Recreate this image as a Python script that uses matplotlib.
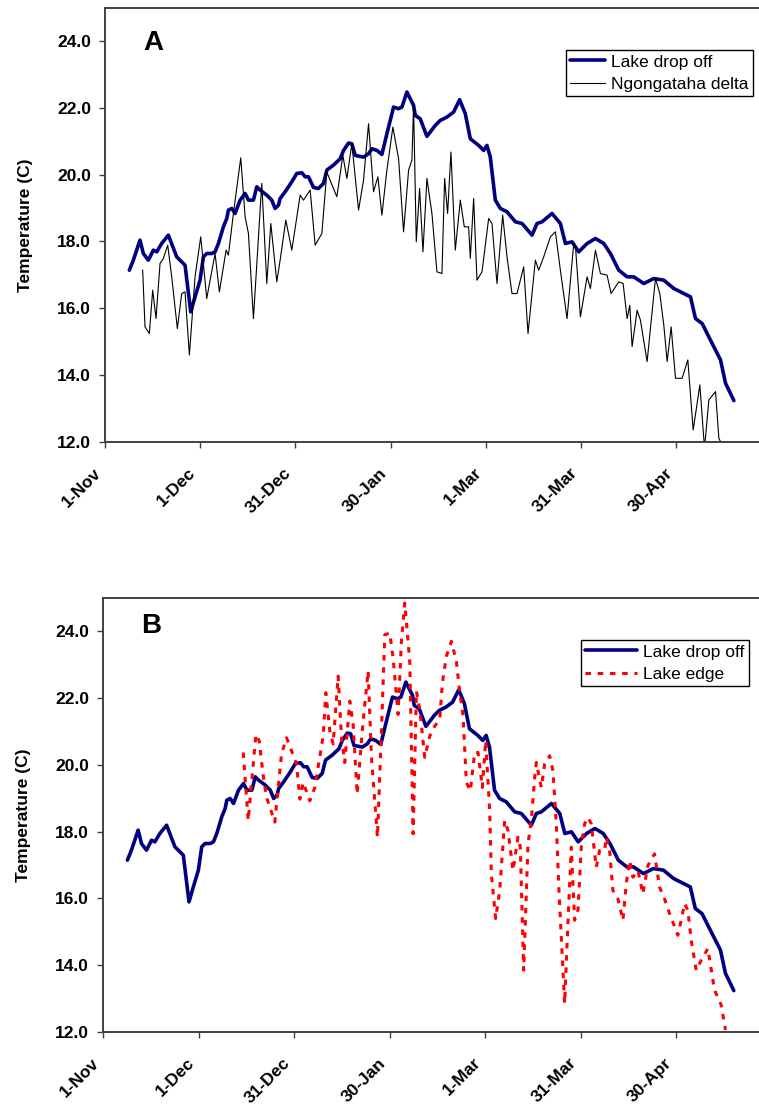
import matplotlib.pyplot as plt
import matplotlib.transforms as mtransforms

plt.rcParams['font.family'] = ['Liberation Sans', 'DejaVu Sans']

# days counted from 1 November
tick_days = [0, 30, 60, 90, 120, 150, 180]
tick_names = ['1-Nov', '1-Dec', '31-Dec', '30-Jan', '1-Mar', '31-Mar', '30-Apr']

# Lake drop off logger
dropoff_day = [7.67, 8.93, 11.03, 12.08, 13.66, 15.24, 16.29, 17.86, 19.97, 22.59,
               25.22, 27.01, 28.37, 29.95, 31.0, 32.05, 33.63, 34.68, 35.73, 37.3,
               38.36, 38.88, 39.93, 40.98, 42.56, 44.14, 45.19, 46.76, 47.81, 48.87,
               50.97, 52.54, 53.59, 54.65, 55.17, 56.75, 58.85, 60.42, 62.0, 63.05,
               64.1, 65.68, 67.25, 68.83, 69.88, 71.98, 74.09, 75.14, 76.71, 77.76,
               78.81, 81.44, 83.02, 84.07, 85.65, 87.22, 88.8, 90.9, 92.48, 93.53,
               95.1, 97.2, 97.73, 99.3, 101.4, 104.03, 105.61, 107.71, 109.81, 111.71,
               113.49, 115.07, 117.7, 119.27, 120.32, 121.37, 122.95, 124.53, 126.63, 129.26,
               131.36, 134.51, 136.09, 137.66, 140.81, 143.44, 145.02, 147.12, 149.22, 151.85,
               154.48, 157.1, 159.2, 161.83, 164.46, 166.56, 169.71, 172.87, 176.02, 179.17,
               182.32, 184.42, 186.0, 188.1, 191.26, 193.88, 195.46, 198.09]
dropoff_temp = [17.14, 17.44, 18.04, 17.64, 17.44, 17.74, 17.69, 17.94, 18.19, 17.54,
                17.29, 15.89, 16.34, 16.84, 17.54, 17.64, 17.64, 17.69, 17.94, 18.44,
                18.69, 18.94, 18.99, 18.84, 19.24, 19.44, 19.24, 19.24, 19.64, 19.54,
                19.39, 19.24, 18.99, 19.09, 19.29, 19.49, 19.79, 20.04, 20.06, 19.94,
                19.94, 19.62, 19.59, 19.74, 20.14, 20.29, 20.48, 20.73, 20.95, 20.93,
                20.58, 20.53, 20.63, 20.78, 20.73, 20.61, 21.23, 22.03, 21.98, 22.03,
                22.48, 22.08, 21.78, 21.68, 21.15, 21.48, 21.63, 21.73, 21.88, 22.25,
                21.83, 21.08, 20.88, 20.73, 20.88, 20.53, 19.24, 18.99, 18.89, 18.59,
                18.54, 18.19, 18.54, 18.59, 18.84, 18.54, 17.94, 17.99, 17.69, 17.94,
                18.09, 17.94, 17.64, 17.14, 16.94, 16.94, 16.74, 16.89, 16.84, 16.59,
                16.44, 16.34, 15.69, 15.54, 14.94, 14.45, 13.75, 13.23]

# Ngongataha delta logger
delta_day = [11.88, 12.61, 13.98, 15.03, 16.08, 17.34, 18.39, 19.76, 21.02, 22.8,
             24.17, 25.22, 26.59, 28.37, 30.16, 32.05, 34.68, 36.04, 38.15, 38.88,
             40.46, 42.77, 44.14, 45.19, 46.76, 49.39, 50.97, 52.23, 54.12, 55.17,
             56.96, 58.85, 61.48, 62.53, 64.63, 66.2, 68.31, 69.88, 73.03, 74.93,
             76.19, 77.76, 79.87, 81.44, 83.02, 84.59, 85.96, 87.22, 88.8, 90.69,
             92.48, 94.05, 95.63, 96.68, 97.2, 98.05, 99.1, 100.15, 101.41, 102.98,
             104.56, 106.14, 106.98, 107.92, 108.97, 110.34, 111.92, 113.18, 114.54, 115.07,
             116.12, 117.17, 118.75, 120.85, 121.9, 123.47, 125.26, 126.63, 128.2, 129.78,
             131.88, 133.25, 135.56, 136.61, 138.19, 140.29, 141.87, 143.44, 145.54, 147.64,
             148.17, 149.75, 151.85, 152.9, 154.48, 156.05, 158.15, 159.42, 160.78, 161.83,
             163.2, 164.46, 165.3, 166.03, 167.61, 168.66, 170.76, 173.39, 174.76, 176.02,
             177.07, 178.33, 179.7, 181.8, 183.58, 185.27, 187.37, 188.84, 190.2, 192.31,
             193.36, 194.41]
delta_temp = [17.14, 15.44, 15.24, 16.54, 15.69, 17.34, 17.49, 17.89, 16.94, 15.39,
              16.44, 16.49, 14.6, 16.94, 18.14, 16.29, 17.64, 16.49, 17.74, 17.59,
              18.84, 20.51, 18.74, 18.24, 15.69, 19.74, 16.74, 18.54, 16.79, 17.44,
              18.64, 17.74, 19.39, 19.24, 19.54, 17.89, 18.24, 20.08, 19.34, 20.58,
              19.89, 20.93, 18.94, 19.84, 21.53, 19.49, 19.94, 18.79, 20.14, 21.43,
              20.48, 18.29, 20.14, 20.44, 22.08, 17.99, 19.59, 17.69, 19.89, 18.84,
              17.09, 17.04, 19.89, 18.84, 20.68, 17.74, 19.24, 18.44, 18.44, 17.49,
              19.29, 16.84, 17.09, 18.69, 18.54, 16.74, 18.79, 17.54, 16.44, 16.44,
              17.24, 15.24, 17.44, 17.14, 17.54, 18.14, 18.29, 17.14, 15.69, 17.94,
              17.89, 15.74, 16.94, 16.59, 17.74, 17.04, 16.99, 16.44, 16.64, 16.79,
              16.74, 15.69, 16.09, 14.85, 15.94, 15.64, 14.4, 16.89, 16.44, 15.49,
              14.4, 15.44, 13.9, 13.9, 14.45, 12.35, 13.7, 11.8, 13.25, 13.5,
              12.1, 11.9]

# Lake edge logger
edge_day = [44.03, 45.6, 46.65, 48.01, 49.05, 50.31, 51.36, 53.97, 54.49, 56.06,
            57.63, 59.2, 60.77, 61.81, 62.86, 64.95, 66.52, 69.13, 69.97, 71.23,
            72.27, 73.84, 74.89, 75.93, 77.5, 78.55, 79.8, 81.69, 83.26, 84.3,
            86.18, 87.44, 88.49, 90.05, 91.1, 92.67, 93.71, 94.76, 96.33, 97.38,
            98.42, 99.47, 101.04, 102.6, 104.17, 105.74, 106.58, 107.83, 109.4, 110.97,
            111.81, 113.06, 114.11, 115.36, 116.72, 117.77, 119.13, 120.17, 121.43, 121.95,
            123.31, 124.57, 126.14, 127.18, 128.75, 130.32, 131.05, 132.1, 133.46, 134.5,
            135.55, 136.07, 137.64, 138.69, 140.26, 141.3, 142.35, 143.18, 144.96, 146.0,
            147.05, 148.1, 149.15, 150.19, 151.24, 152.28, 153.33, 154.9, 155.94, 157.51,
            158.04, 159.08, 160.13, 161.7, 163.27, 164.31, 165.36, 166.4, 167.97, 169.54,
            171.11, 173.2, 174.77, 176.34, 177.91, 180.52, 181.57, 182.62, 183.66, 184.71,
            186.28, 187.85, 189.94, 192.03, 194.12, 195.48]
edge_temp = [20.37, 18.33, 19.47, 20.91, 20.72, 19.67, 19.02, 18.28, 18.82, 20.32,
             20.81, 20.42, 20.02, 18.97, 19.47, 18.92, 19.32, 20.86, 22.16, 21.01,
             20.62, 22.66, 20.82, 20.07, 21.91, 21.21, 19.12, 21.31, 22.81, 20.22,
             17.83, 21.01, 23.9, 23.95, 23.2, 21.51, 23.7, 24.85, 23.1, 17.93,
             22.21, 21.66, 20.22, 20.86, 21.16, 21.36, 22.46, 23.25, 23.7, 23.1,
             22.36, 21.46, 19.47, 19.22, 20.37, 20.37, 19.32, 20.72, 18.62, 16.73,
             15.39, 16.23, 18.33, 18.03, 16.83, 17.83, 17.53, 13.84, 17.63, 18.33,
             19.62, 20.07, 19.32, 20.02, 20.27, 19.82, 18.23, 16.23, 12.85, 15.24,
             17.53, 15.34, 15.64, 17.53, 18.23, 18.42, 18.23, 16.93, 17.43, 17.43,
             17.83, 17.43, 16.23, 15.98, 15.34, 16.43, 17.13, 16.63, 16.83, 16.13,
             16.98, 17.33, 16.33, 15.98, 15.54, 14.89, 15.34, 15.84, 15.64, 14.74,
             13.84, 14.14, 14.49, 13.25, 12.8, 12.05]

NAVY = '#000080'
AXCOL = '#404040'


def style_axis(ax, tag, tag_y):
    ax.set_xlim(0, 206)
    ax.set_ylim(12, 25)
    ax.set_yticks(range(12, 25, 2))
    ax.set_yticklabels(['%.1f' % v for v in range(12, 25, 2)])
    ax.set_xticks(tick_days)
    ax.set_xticklabels(tick_names)
    for side in ['left', 'bottom', 'top']:
        ax.spines[side].set_color(AXCOL)
        ax.spines[side].set_linewidth(1.4)
    ax.spines['right'].set_visible(False)
    ax.tick_params(axis='both', direction='out', length=4, width=1, color=AXCOL,
                   labelsize=12.5)
    ax.tick_params(axis='y', pad=6)
    ax.tick_params(axis='x', pad=13)
    shift = mtransforms.ScaledTranslation(-0.12, 0, ax.figure.dpi_scale_trans)
    for lbl in ax.get_xticklabels():
        lbl.set_rotation(45)
        lbl.set_ha('right')
        lbl.set_va('top')
        lbl.set_rotation_mode('anchor')
        lbl.set_fontweight('bold')
        lbl.set_transform(lbl.get_transform() + shift)
    for lbl in ax.get_yticklabels():
        lbl.set_fontweight('bold')
    ax.set_ylabel('Temperature (C)', fontsize=12.5, fontweight='bold')
    ax.yaxis.set_label_coords(-0.11, 0.5)
    ax.text(0.058, tag_y, tag, transform=ax.transAxes, fontsize=20,
            fontweight='bold', ha='left', va='top')


fig = plt.figure(figsize=(7.59, 11.08), dpi=100)

# A: lake drop off vs Ngongataha delta
axA = fig.add_axes([0.1383, 0.6014, 0.8617, 0.3914])
axA.plot(dropoff_day, dropoff_temp, color=NAVY, lw=2.6, solid_joinstyle='round',
         solid_capstyle='round', label='Lake drop off')
axA.plot(delta_day, delta_temp, color='black', lw=0.8, solid_joinstyle='round',
         label='Ngongataha delta')
style_axis(axA, 'A', 0.95)
axA.legend(loc='upper right', bbox_to_anchor=(0.991, 0.903), borderaxespad=0,
           fontsize=12.5, frameon=True, fancybox=False, edgecolor='black',
           framealpha=1, handlelength=2.0, handletextpad=0.35, borderpad=0.25,
           labelspacing=0.4)

# B: lake drop off vs lake edge
axB = fig.add_axes([0.1357, 0.0689, 0.8643, 0.3914])
axB.plot(dropoff_day, dropoff_temp, color=NAVY, lw=2.6, solid_joinstyle='round',
         solid_capstyle='round', label='Lake drop off')
axB.plot(edge_day, edge_temp, color='red', lw=2.2, linestyle=(0, (1.8, 2.2)),
         label='Lake edge')
style_axis(axB, 'B', 0.965)
axB.legend(loc='upper right', bbox_to_anchor=(0.985, 0.903), borderaxespad=0,
           fontsize=12.5, frameon=True, fancybox=False, edgecolor='black',
           framealpha=1, handlelength=3.0, handletextpad=0.35, borderpad=0.25,
           labelspacing=0.4)

fig.savefig('out.png', dpi=100)
